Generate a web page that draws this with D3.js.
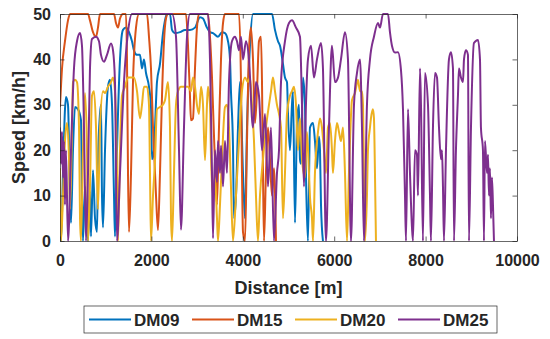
<!DOCTYPE html>
<html>
<head>
<meta charset="utf-8">
<title>speed vs distance</title>
<script src="https://cdnjs.cloudflare.com/ajax/libs/d3/7.8.5/d3.min.js"></script>
<style>
  body { margin: 0; background: #fff; }
  text { font-family: "Liberation Sans", Arial, sans-serif; font-weight: bold; fill: #262626; }
</style>
</head>
<body>
<script>
// series names / colours (MATLAB default order)
var names = ["DM09", "DM15", "DM20", "DM25"]
var colors = ["#0072BD", "#D95319", "#EDB120", "#7E2F8E"]
var xTicks = [0, 2000, 4000, 6000, 8000, 10000]
var yTicks = [0, 10, 20, 30, 40, 50]

// distance [m] and speed [km/h]
var dm09Dist = [0,22,66,109,131,175,219,241,284,328,394,459,481,503,547,591,613,656,678,722,766,810,831,875,897,919,941,985,1050,1094,1138,1182,1203,1247,1313,1335,1378,1444,1510,1575,1619,1685,1750,1794,1838,1882,1947,1991,2013,2057,2079,2122,2188,2254,2297,2341,2407,2451,2516,2626,2735,2844,2954,3063,3129,3216,3282,3348,3457,3545,3610,3676,3720,3741,3785,3807,3851,3895,3938,4004,4048,4092,4157,4223,4639,4704,4770,4814,4879,4923,4967,4989,5032,5076,5098,5142,5186,5229,5251,5273,5317,5361,5382,5426,5470,5536,5579,5623,5667,5689,5711,5754]
var dm09Speed = [5,0,15,29,31.7,30,10,4,20,29.5,29,26.6,10,0,12,3,0,11,1,15.6,5,2,17,28,30,10,3,20,34,35.5,30,10,1,20,40,43.6,46.5,47,46,44,42,41,41,38,40,37,34,29.5,18,20,25,35,39,45.8,48.6,50,50,46.5,45.8,46,46.5,46.5,47,49.3,49,47,46,45.8,45,46,45.8,44,40,33,21,5,10,25,35,15,5,25,43,50,50,46.5,44,43,39,36,35,28,20,30,33,4,26,30,18,17,36,30,15,0,25,26,22,16,23,20,8,0]

var dm15Dist = [0,44,109,175,219,613,656,722,788,831,875,1182,1225,1269,1313,1378,1444,1466,1488,1510,1554,1597,1663,1728,1904,1947,1991,2035,2101,2144,2188,2232,2276,2319,2363,2757,2801,2844,2866,2910,2954,2997,3041,3238,3282,3326,3370,3413,3435,3479,3523,3567,3610,3917,3960,3982,4004,4048,4092,4135,4179,4223,4267,4310,4354,4398,4420,4442,4464,4507,4551,4595,4639,4682,4726]
var dm15Speed = [29.5,38,44,48.6,50,50,48.6,46,45,47,50,50,48,47,49,50,50,40,15,2,15,35,47,50,50,45,38,25,10,2.4,15,32,44,49,50,50,43,32,26.6,27,38,47,50,50,45,36,23,12,8,25,40,48,50,50,35,15,2,0,22,42,47,40,26,33,44,45,35,15,0,15,25,18,10,16,0]

var dm20Dist = [0,22,66,109,153,197,219,263,284,328,372,416,438,459,503,547,591,613,656,700,744,788,831,875,941,985,1050,1116,1160,1203,1247,1269,1313,1357,1422,1488,1554,1619,1685,1750,1794,1838,1904,1947,1969,1991,2035,2079,2122,2188,2254,2297,2363,2407,2429,2451,2494,2538,2582,2647,2735,2801,2866,2910,2954,2997,3041,3085,3129,3173,3216,3238,3282,3304,3348,3391,3435,3457,3501,3545,3610,3654,3698,3741,3785,3851,3917,3982,4048,4113,4157,4201,4245,4288,4332,4376,4442,4507,4573,4617,4660,4704,4748,4792,4836,4879,4923,4967,5032,5076,5120,5164,5207,5251,5295,5361,5404,5448,5470,5514,5536,5579,5645,5689,5732,5776,5820,5864,5908,5951,5973,6017,6061,6105,6148,6192,6236,6280,6323,6389,6455,6520,6564,6608,6630,6651,6673,6717,6739,6783,6804,6848,6870,6892,6914]
var dm20Speed = [16,0,10,22,26,18,7,25,35,35.5,35,25,5,0,20,32.6,20,0,12,32,33,25,7,25,33,32.6,34,35,36,33,15,0,20,32,34,36,36,36,33,27,30,34,34,30,15,0,10,17.8,29,29.5,30,31,35,25,5,0,15,30,33,34,34,34,33,36,34,30,28,34,30,17.8,30,34,30,18.5,10,14,5,0,8,18,29.5,30,25,12,0,10,22,33,36,35,36,30,22,10,0,10,18,25,30,33,36,33,30,28,25,5,15,28,32,33,34,30,20,27,18,14,24,15,9.7,5,0,15,24,27,25,20,15,25,26,20,15,22,26,24,22,25,15,0,15,31,32.6,35.5,33,33,30,15,0,10,20,25,27,29,27,15,0]

var dm25Dist = [0,22,44,66,88,109,131,175,241,306,372,438,481,525,569,613,656,700,788,853,897,963,1028,1116,1160,1203,1247,1313,1400,1488,1575,2451,2538,2604,2647,2713,2779,2844,3238,3282,3326,3348,3391,3435,3457,3501,3523,3567,3610,3654,3698,3763,3829,3873,3917,3960,4004,4070,4135,4223,4288,4354,4420,4486,4551,4617,4682,4748,4792,4836,4923,5011,5076,5164,5251,5295,5339,5382,5426,5492,5557,5623,5711,5754,5820,5886,5951,6017,6083,6148,6236,6301,6367,6433,6498,6564,6608,6651,6717,6783,6870,6958,7002,7067,7177,7220,7264,7330,7395,7461,7505,7549,7571,7614,7658,7702,7724,7767,7811,7833,7877,7899,7942,7986,8052,8096,8117,8161,8205,8249,8293,8336,8358,8380,8402,8446,8511,8555,8599,8621,8664,8708,8730,8774,8818,8840,8883,8927,8949,8993,9058,9146,9190,9211,9255,9277,9299,9343,9365,9387,9408,9430,9452,9474,9496]
var dm25Speed = [25,17,24,14,22,8,20,0,20,38,44,45.8,43,25,0,15,38,44.5,45,44,41,39.5,41,43.5,42,35,0,15,35,46,50,50,45,20,2.5,25,45,50,50,40,15,0.6,20,13,22,15,21,12,22,15,35,44,45,44,42,45,40,44,40,25,35,32,20,28,12,25,0,15,20,35,44,48,48.6,47,45,30,12,30,40,43,36,40,43.6,38,0,25,43,35,36,40,46,40,0,30,37,40,25,0,30,40,45,48,47,50,50,46,43,41.5,41.6,37.7,29,10,0,29,15,3,0,20,19,10,38,30,0,37,30,10,0,25,37,36,25,18,20,12,0,20,40,41.6,38,0,20,32,38,36,35,40,42,41,0,25,43.6,44.3,40,25,20,0,22,15,19,10,16,5,14,8,0]

var seriesDist = [dm09Dist, dm15Dist, dm20Dist, dm25Dist]
var seriesSpeed = [dm09Speed, dm15Speed, dm20Speed, dm25Speed]

var w = 550, h = 339
var padL = 60, padR = 517, padT = 14, padB = 241

var svg = d3.select("body").append("svg").attr("width", w).attr("height", h)

var x = d3.scaleLinear().domain([0, 10000]).range([padL, padR])
var y = d3.scaleLinear().domain([0, 50]).range([padB, padT])

svg.append("clipPath").attr("id", "plotclip")
  .append("rect").attr("x", padL).attr("y", padT - 1.5)
  .attr("width", padR - padL).attr("height", padB - padT + 3)

var line = d3.line()
  .x(function(d) { return x(d[0]) })
  .y(function(d) { return y(d[1]) })
  .curve(d3.curveMonotoneX)

var plot = svg.append("g").attr("clip-path", "url(#plotclip)")
for (var i = 0; i < names.length; i++) {
  var pts = seriesDist[i].map(function(d, j) { return [d, seriesSpeed[i][j]] })
  plot.append("path")
    .attr("d", line(pts))
    .attr("fill", "none")
    .attr("stroke", colors[i])
    .attr("stroke-width", 2)
    .attr("stroke-linejoin", "round")
}

// axes (box on, ticks inward)
function styleAxis(g) {
  g.selectAll("path, line").attr("stroke", "#262626").attr("stroke-width", 0.7)
  g.selectAll("text").attr("font-size", 16).attr("fill", "#262626")
  g.attr("font-family", null).attr("font-size", null)
}
var fmt = d3.format("d")
svg.append("g").attr("transform", "translate(0," + padB + ")")
  .call(d3.axisBottom(x).tickValues(xTicks).tickFormat(fmt).tickSizeInner(-4.5).tickSizeOuter(0).tickPadding(14))
  .call(styleAxis)
svg.append("g").attr("transform", "translate(0," + padT + ")")
  .call(d3.axisTop(x).tickValues(xTicks).tickSizeInner(-4.5).tickSizeOuter(0).tickFormat(""))
  .call(styleAxis)
svg.append("g").attr("transform", "translate(" + padL + ",0)")
  .call(d3.axisLeft(y).tickValues(yTicks).tickFormat(fmt).tickSizeInner(-4.5).tickSizeOuter(0).tickPadding(9))
  .call(styleAxis)
svg.append("g").attr("transform", "translate(" + padR + ",0)")
  .call(d3.axisRight(y).tickValues(yTicks).tickSizeInner(-4.5).tickSizeOuter(0).tickFormat(""))
  .call(styleAxis)

svg.append("text").attr("x", (padL + padR) / 2).attr("y", 294)
  .attr("text-anchor", "middle").attr("font-size", 18).text("Distance [m]")
svg.append("text").attr("transform", "translate(25," + (padT + padB) / 2 + ") rotate(-90)")
  .attr("text-anchor", "middle").attr("font-size", 18).text("Speed [km/h]")

// legend
var lg = svg.append("g")
lg.append("rect").attr("x", 84).attr("y", 306).attr("width", 413).attr("height", 27)
  .attr("fill", "#fff").attr("stroke", "#262626").attr("stroke-width", 0.7)
names.forEach(function(n, i) {
  var x0 = 89 + i * 103
  lg.append("line").attr("x1", x0).attr("x2", x0 + 42).attr("y1", 319.5).attr("y2", 319.5)
    .attr("stroke", colors[i]).attr("stroke-width", 2)
  lg.append("text").attr("x", x0 + 45).attr("y", 325.5).attr("font-size", 17).text(n)
})
</script>
</body>
</html>
